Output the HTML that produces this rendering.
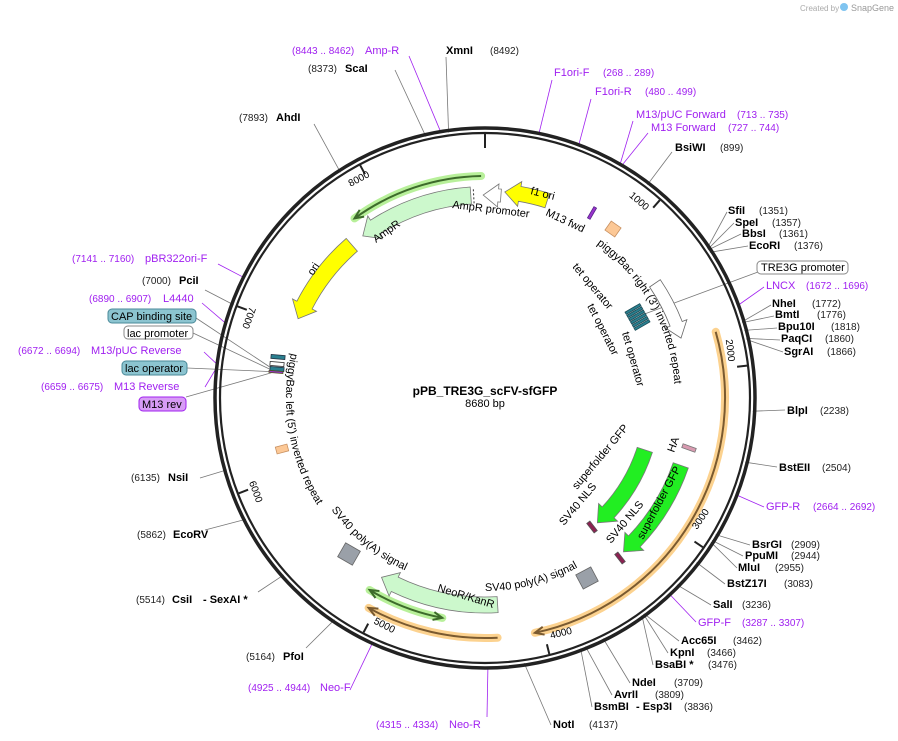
<!DOCTYPE html>
<html><head><meta charset="utf-8"><style>
body{margin:0;background:#fff;width:898px;height:741px;overflow:hidden}
svg{position:absolute;left:0;top:0;font-family:"Liberation Sans","DejaVu Sans",sans-serif}
.e{font-weight:bold;font-size:11px;fill:#000}
.n{font-size:10px;fill:#222}
.p{font-size:11px;fill:#a020f0}
.pn{font-size:10px;fill:#a020f0}
.f{font-size:11px;fill:#000}
</style></head><body>
<svg id="s" width="898" height="741" viewBox="0 0 898 741">
<g id="lines" stroke="#777" stroke-width="0.8" fill="none"></g>
<g id="shapes"></g>
<circle cx="485" cy="398" r="270" fill="none" stroke="#222" stroke-width="3.5"/>
<circle cx="485" cy="398" r="265" fill="none" stroke="#222" stroke-width="2.2"/>
<g id="ticks"></g>
<text x="485" y="395" text-anchor="middle" style="font-weight:bold;font-size:12px">pPB_TRE3G_scFV-sfGFP</text>
<text x="485" y="407" text-anchor="middle" style="font-size:11px">8680 bp</text>
<text x="800" y="11" style="font-size:8px;fill:#aaa">Created by</text>
<circle cx="844" cy="7" r="4" fill="#7fc4f0"/>
<text x="851" y="11" style="font-size:9px;fill:#999">SnapGene</text>

<text x="292" y="54" class="pn">(8443 .. 8462)</text><text x="365" y="54" class="p">Amp-R</text>
<text x="446" y="54" class="e">XmnI</text><text x="490" y="54" class="n">(8492)</text>
<text x="308" y="72" class="n">(8373)</text><text x="345" y="72" class="e">ScaI</text>
<text x="239" y="121" class="n">(7893)</text><text x="276" y="121" class="e">AhdI</text>
<text x="554" y="76" class="p">F1ori-F</text><text x="603" y="76" class="pn">(268 .. 289)</text>
<text x="595" y="95" class="p">F1ori-R</text><text x="645" y="95" class="pn">(480 .. 499)</text>
<text x="636" y="118" class="p">M13/pUC Forward</text><text x="737" y="118" class="pn">(713 .. 735)</text>
<text x="651" y="131" class="p">M13 Forward</text><text x="728" y="131" class="pn">(727 .. 744)</text>
<text x="675" y="151" class="e">BsiWI</text><text x="720" y="151" class="n">(899)</text>
<text x="728" y="214" class="e">SfiI</text><text x="759" y="214" class="n">(1351)</text>
<text x="735" y="226" class="e">SpeI</text><text x="772" y="226" class="n">(1357)</text>
<text x="742" y="237" class="e">BbsI</text><text x="779" y="237" class="n">(1361)</text>
<text x="749" y="249" class="e">EcoRI</text><text x="794" y="249" class="n">(1376)</text>
<rect x="757" y="261" width="91" height="13" rx="4" fill="#fff" stroke="#888"/><text x="761" y="271" class="f">TRE3G promoter</text>
<text x="766" y="289" class="p">LNCX</text><text x="806" y="289" class="pn">(1672 .. 1696)</text>
<text x="772" y="307" class="e">NheI</text><text x="812" y="307" class="n">(1772)</text>
<text x="775" y="318" class="e">BmtI</text><text x="817" y="318" class="n">(1776)</text>
<text x="778" y="330" class="e">Bpu10I</text><text x="831" y="330" class="n">(1818)</text>
<text x="781" y="342" class="e">PaqCI</text><text x="825" y="342" class="n">(1860)</text>
<text x="784" y="355" class="e">SgrAI</text><text x="827" y="355" class="n">(1866)</text>
<text x="787" y="414" class="e">BlpI</text><text x="820" y="414" class="n">(2238)</text>
<text x="779" y="471" class="e">BstEII</text><text x="822" y="471" class="n">(2504)</text>
<text x="766" y="510" class="p">GFP-R</text><text x="813" y="510" class="pn">(2664 .. 2692)</text>
<text x="752" y="548" class="e">BsrGI</text><text x="791" y="548" class="n">(2909)</text>
<text x="745" y="559" class="e">PpuMI</text><text x="791" y="559" class="n">(2944)</text>
<text x="738" y="571" class="e">MluI</text><text x="775" y="571" class="n">(2955)</text>
<text x="727" y="587" class="e">BstZ17I</text><text x="784" y="587" class="n">(3083)</text>
<text x="713" y="608" class="e">SalI</text><text x="742" y="608" class="n">(3236)</text>
<text x="698" y="626" class="p">GFP-F</text><text x="742" y="626" class="pn">(3287 .. 3307)</text>
<text x="681" y="644" class="e">Acc65I</text><text x="733" y="644" class="n">(3462)</text>
<text x="670" y="656" class="e">KpnI</text><text x="707" y="656" class="n">(3466)</text>
<text x="655" y="668" class="e">BsaBI *</text><text x="708" y="668" class="n">(3476)</text>
<text x="632" y="686" class="e">NdeI</text><text x="674" y="686" class="n">(3709)</text>
<text x="614" y="698" class="e">AvrII</text><text x="655" y="698" class="n">(3809)</text>
<text x="594" y="710" class="e">BsmBI</text><text x="636" y="710" class="e">- Esp3I</text><text x="684" y="710" class="n">(3836)</text>
<text x="553" y="728" class="e">NotI</text><text x="589" y="728" class="n">(4137)</text>
<text x="376" y="728" class="pn">(4315 .. 4334)</text><text x="449" y="728" class="p">Neo-R</text>
<text x="248" y="691" class="pn">(4925 .. 4944)</text><text x="320" y="691" class="p">Neo-F</text>
<text x="246" y="660" class="n">(5164)</text><text x="283" y="660" class="e">PfoI</text>
<text x="136" y="603" class="n">(5514)</text><text x="172" y="603" class="e">CsiI</text><text x="203" y="603" class="e">- SexAI *</text>
<text x="137" y="538" class="n">(5862)</text><text x="173" y="538" class="e">EcoRV</text>
<text x="131" y="481" class="n">(6135)</text><text x="168" y="481" class="e">NsiI</text>
<text x="72" y="262" class="pn">(7141 .. 7160)</text><text x="145" y="262" class="p">pBR322ori-F</text>
<text x="142" y="284" class="n">(7000)</text><text x="179" y="284" class="e">PciI</text>
<text x="89" y="302" class="pn">(6890 .. 6907)</text><text x="163" y="302" class="p">L4440</text>
<rect x="108" y="309" width="88" height="14" rx="4" fill="#8cc4d0" stroke="#4a8a99"/><text x="111" y="320" class="f">CAP binding site</text>
<rect x="124" y="326" width="69" height="13" rx="4" fill="#fff" stroke="#888"/><text x="127" y="337" class="f">lac promoter</text>
<text x="18" y="354" class="pn">(6672 .. 6694)</text><text x="91" y="354" class="p">M13/pUC Reverse</text>
<rect x="122" y="361" width="65" height="14" rx="4" fill="#8cc4d0" stroke="#4a8a99"/><text x="125" y="372" class="f">lac operator</text>
<text x="41" y="390" class="pn">(6659 .. 6675)</text><text x="114" y="390" class="p">M13 Reverse</text>
<rect x="139" y="397" width="47" height="14" rx="4" fill="#d79cf5" stroke="#a020f0"/><text x="142" y="408" class="f">M13 rev</text>

<defs>
<path id="pbr"/><path id="pbl"/><path id="svl"/><path id="svr"/>
</defs>
<text class="f"><textPath href="#pbr">piggyBac right (3') inverted repeat</textPath></text>
<text class="f"><textPath href="#pbl">piggyBac left (5') inverted repeat</textPath></text>
<text class="f"><textPath href="#svl">SV40 poly(A) signal</textPath></text>
<text class="f"><textPath href="#svr">SV40 poly(A) signal</textPath></text>
<text class="f" transform="translate(452,208) rotate(7)">AmpR promoter</text>
<text class="f" transform="translate(376,243) rotate(-35)">AmpR</text>
<text class="f" transform="translate(530,194) rotate(14)">f1 ori</text>
<text class="f" transform="translate(545,215) rotate(25)">M13 fwd</text>
<text class="f" transform="translate(313,276) rotate(-57)">ori</text>
<text class="f" transform="translate(572,267) rotate(50)">tet operator</text>
<text class="f" transform="translate(587,306) rotate(63)">tet operator</text>
<text class="f" transform="translate(622,333) rotate(74)">tet operator</text>
<text class="f" transform="translate(437,591) rotate(17)">NeoR/KanR</text>
<text class="f" transform="translate(577,490) rotate(-50)">superfolder GFP</text>
<text class="f" transform="translate(564,526) rotate(-50)">SV40 NLS</text>
<text class="f" transform="translate(611,544) rotate(-50)">SV40 NLS</text>
<text class="f" transform="translate(643,540) rotate(-62)">superfolder GFP</text>
<text class="f" transform="translate(674,453) rotate(-70)">HA</text>
</svg>
<script>
var cx=485,cy=398,D=Math.PI/180,NS="http://www.w3.org/2000/svg";
function P(r,a){return [cx+r*Math.sin(a*D),cy-r*Math.cos(a*D)];}
function ps(p){return p[0].toFixed(1)+","+p[1].toFixed(1);}
function bpA(b){return b/8680*360;}
function el(g,t,at){var e=document.createElementNS(NS,t);for(var k in at)e.setAttribute(k,at[k]);document.getElementById(g).appendChild(e);return e;}
function arcD(r,a1,a2){var sw=a2>a1?1:0,lg=Math.abs(a2-a1)>180?1:0;return "M"+ps(P(r,a1))+" A"+r+","+r+" 0 "+lg+" "+sw+" "+ps(P(r,a2));}
function arrow(r,w,a1,a2,fill,stroke){var s=a2>a1?1:-1,h=15/r/D,b=a2-s*h,sw=s>0?1:0,o=r+w/2,i=r-w/2;
var d="M"+ps(P(o,a1))+" A"+o+","+o+" 0 0 "+sw+" "+ps(P(o,b))+" L"+ps(P(o+5,b))+" L"+ps(P(r,a2))+" L"+ps(P(i-5,b))+" L"+ps(P(i,b))+" A"+i+","+i+" 0 0 "+(1-sw)+" "+ps(P(i,a1))+" Z";
el("shapes","path",{d:d,fill:fill,stroke:stroke||"#777","stroke-width":0.8});}
function head(r,a,s,col){var h=9/r/D,b=a-s*h;el("shapes","path",{d:"M"+ps(P(r+4,b))+" L"+ps(P(r,a))+" L"+ps(P(r-4,b)),fill:"none",stroke:col,"stroke-width":2});}
function glow(r,a1,a2,halo,col,h1,h2){el("shapes","path",{d:arcD(r,a1,a2),fill:"none",stroke:halo,"stroke-width":8,"stroke-linecap":"round"});
el("shapes","path",{d:arcD(r,a1,a2),fill:"none",stroke:col,"stroke-width":2});
var s=a2>a1?1:-1;if(h2)head(r,a2,s,col);if(h1)head(r,a1,-s,col);}
function box(x,y,w,h,rot,fill,stroke){el("shapes","rect",{x:-w/2,y:-h/2,width:w,height:h,fill:fill,stroke:stroke,"stroke-width":0.8,transform:"translate("+x+","+y+") rotate("+rot+")"});}
for(var k=0;k<=8;k++){var a=bpA(k*1000);el("ticks","path",{d:"M"+ps(P(264,a))+" L"+ps(P(k?254:250,a)),stroke:"#222","stroke-width":2});}
var tl=[[1000,644,195,41],[2000,738,349,83],[3000,706,522,-56],[4000,563,639,-14],[5000,382,631,27],[6000,250,494,70],[7000,243,316,110],[8000,355,172,-28]];
tl.forEach(function(t){var dx=t[1]-cx,dy=t[2]-cy,r=Math.sqrt(dx*dx+dy*dy),f=(r-7)/r,x=cx+dx*f,y=cy+dy*f;
var e=el("ticks","text",{transform:"translate("+x.toFixed(1)+","+y.toFixed(1)+") rotate("+t[3]+")","font-size":"10","text-anchor":"middle",x:0,y:4});e.textContent=t[0];});
glow(222,-1,-36,"#b8f09a","#3d6b2b",false,true);
arrow(203,17,-4,-37,"#ccf8cc");
el("shapes","path",{d:"M"+ps(P(195,-3.2))+" L"+ps(P(211,-3.2)),stroke:"#333","stroke-dasharray":"2,2","stroke-width":1});
arrow(203,13,4.5,-0.5,"#fff");
arrow(207,15,17.5,5.5,"#ffff00");
arrow(203,17,-41,-67,"#ffff00");
glow(240,74,168,"#fcd28f","#7a5a30",false,true);
glow(240,177,209,"#fcd28f","#7a5a30",false,true);
glow(224,191,211,"#b8f09a","#3d6b2b",true,true);
arrow(207,16,176.5,210,"#ccf8cc");
arrow(168,16,108,138,"#22ee22");
arrow(207,16,109,138,"#22ee22");
arrow(205,13,56,73,"#fff","#666");
box(592,527,12,4,52,"#8b2252","#555");box(620,558,12,4,52,"#8b2252","#555");
box(689,448,14,4,20,"#d89ab0","#777");
box(587,578,17,16,-28,"#9aa0a8","#666");box(349,554,17,16,30,"#9aa0a8","#666");
box(613,229,12,11,35,"#fcc896","#c89060");box(282,449,12,7,-15,"#fcc896","#c89060");
box(592,213,13,3,-60,"#9933cc","#552288");
for(var j=0;j<6;j++)box(633+j*1.8,309+j*3.2,17,2.6,-30,"#2a7f8f","#1a4a55");
box(278,357,14,4,5,"#2a7f8f","#234");box(277,364,14,4,5,"#fff","#333");box(277,369,14,4,5,"#2a7f8f","#234");box(276,372,14,2,5,"#9933cc","#552");
document.getElementById("pbr").setAttribute("d",arcD(190,36,98));
document.getElementById("pbl").setAttribute("d",arcD(199,283,225));
document.getElementById("svl").setAttribute("d",arcD(190,234,185));
document.getElementById("svr").setAttribute("d",arcD(193,180,140));
function L(bp,x,y,col,r){var p=P(r||268,bpA(bp));el("lines","path",{d:"M"+x+","+y+" L"+ps(p),stroke:col||"#777"});}
var Ls=[[8492,446,57],[8373,395,70],[7893,314,124],[899,672,152],[1351,727,212],[1357,734,223],[1361,741,234],[1376,748,246],[1772,771,305],[1776,774,316],[1818,777,328],[1860,780,340],[1866,783,352],[2238,785,410],[2504,777,467],[2909,750,545],[2944,743,556],[2955,737,568],[3083,725,584],[3236,711,605],[3462,679,641],[3466,668,653],[3476,653,665],[3709,630,683],[3809,612,695],[3836,592,707],[4137,551,725],[5164,306,648],[5514,258,592],[5862,205,530],[6135,200,478],[7000,205,290]];
Ls.forEach(function(l){L(l[0],l[1],l[2]);});
var Pu=[[8452,409,56],[278,552,80],[490,591,99],[724,633,121],[735,648,133],[1684,764,287],[2678,764,507],[3297,696,622],[4325,487,717],[4935,350,690],[7150,218,264],[6898,202,303],[6683,204,352],[6667,205,387]];
Pu.forEach(function(l){L(l[0],l[1],l[2],"#a020f0",270);});
L(1500,758,272,"#777",180);L(6700,196,318,"#777",215);L(6690,193,333,"#777",215);L(6680,187,368,"#777",215);L(6672,186,397,"#777",215);
</script>
</body></html>
